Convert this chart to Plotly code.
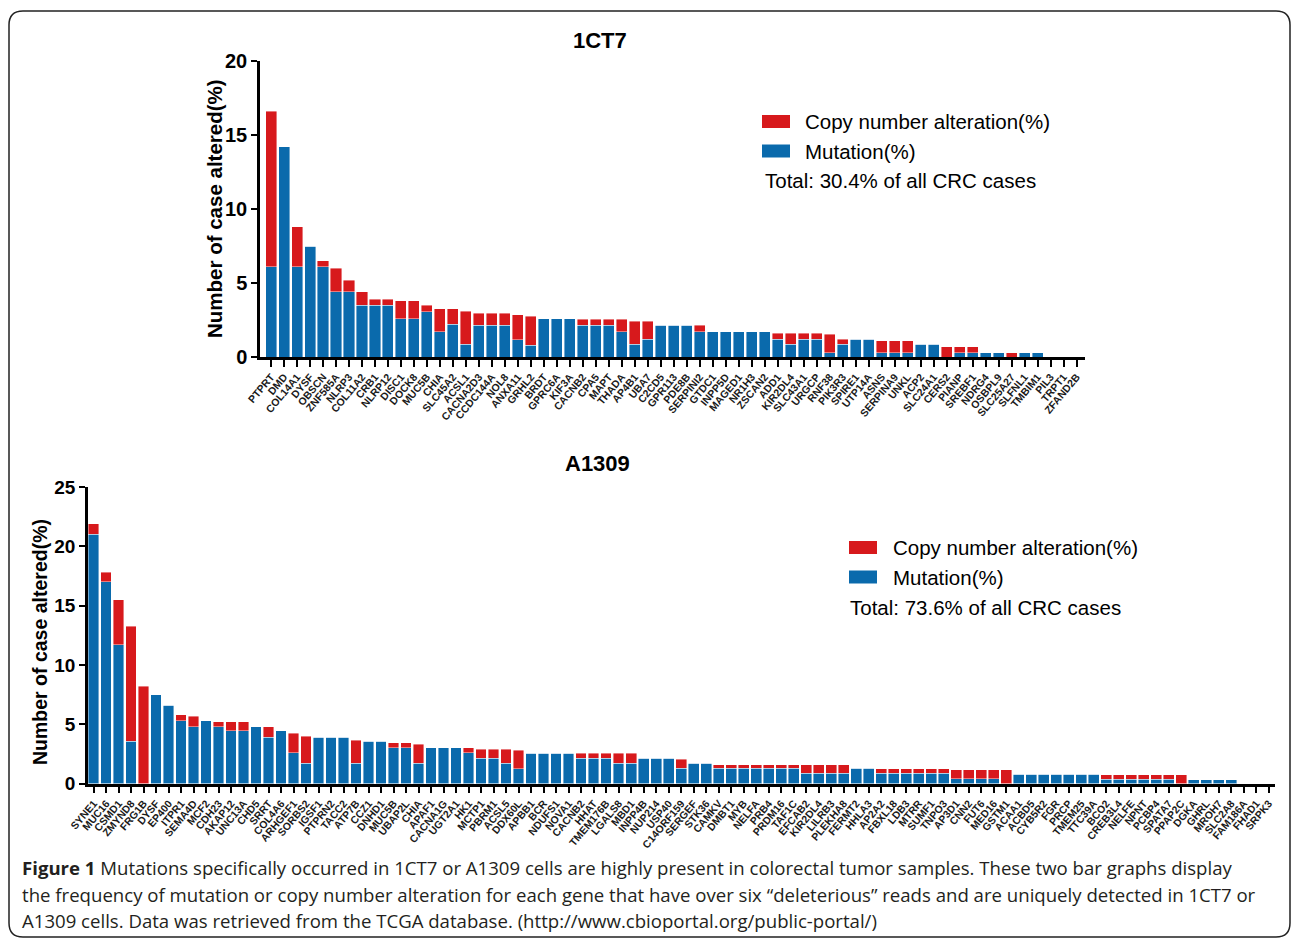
import plotly.graph_objects as go

W, H = 1292, 939

# ---------------- 1CT7 data ----------------
genes_1ct7 = ["PTPRT", "DMD", "COL14A1", "DYSF", "OBSCN", "ZNF585A", "NLRP3", "COL11A2", "CRB1", "NLRP12",
              "DISC1", "DOCK8", "MUC5B", "CHIA", "SLC45A2", "ACSL1", "CACNA2D3", "CCDC144A", "NOL8", "ANXA11",
              "GRHL2", "BRDT", "GPRC6A", "KIF3A", "CACNB2", "CPA5", "MAPT", "THADA", "AP4B1", "UBA7",
              "C2CD5", "GPR113", "PDE8B", "SERPINI2", "GTDC1", "INPP5D", "MAGED1", "NR1H3", "ZSCAN2", "ADD1",
              "KIR2DL4", "SLC43A1", "URGCP", "RNF38", "PIK3R3", "SPIRE1", "UTP14A", "ASNS", "SERPINA9", "UNKL",
              "ACP2", "SLC24A1", "CERS2", "PIANP", "SREBF1", "NDRG4", "OSBPL9", "SLC25A27", "SLFNL1", "TMBIM1",
              "PIL3", "TRPT1", "ZFAND2B"]
mut_1ct7 = [6.1, 14.2, 6.1, 7.5, 6.1, 4.4, 4.4, 3.5, 3.5, 3.5,
            2.6, 2.6, 3.05, 1.7, 2.2, 0.85, 2.15, 2.15, 2.15, 1.15,
            0.8, 2.6, 2.6, 2.6, 2.15, 2.15, 2.15, 1.7, 0.85, 1.2,
            2.15, 2.15, 2.15, 1.7, 1.7, 1.7, 1.7, 1.7, 1.7, 1.2,
            0.85, 1.2, 1.2, 0.3, 0.85, 1.2, 1.2, 0.3, 0.3, 0.3,
            0.85, 0.85, 0.0, 0.3, 0.3, 0.3, 0.3, 0.0, 0.3, 0.3,
            0.0, 0.0, 0.0]
cna_1ct7 = [10.5, 0.0, 2.7, 0.0, 0.4, 1.6, 0.8, 0.9, 0.4, 0.4,
            1.2, 1.2, 0.45, 1.55, 1.05, 2.25, 0.8, 0.8, 0.8, 1.7,
            1.95, 0.0, 0.0, 0.0, 0.4, 0.4, 0.4, 0.85, 1.55, 1.2,
            0.0, 0.0, 0.0, 0.45, 0.0, 0.0, 0.0, 0.0, 0.0, 0.4,
            0.75, 0.4, 0.4, 1.25, 0.35, 0.0, 0.0, 0.8, 0.8, 0.8,
            0.0, 0.0, 0.7, 0.4, 0.4, 0.0, 0.0, 0.3, 0.0, 0.0,
            0.0, 0.0, 0.0]

# ---------------- A1309 data ----------------
genes_a1309 = ["SYNE1", "MUC16", "CSMD1", "ZMYND8", "FRG1B", "DYSF", "EP400", "ITPR1", "SEMA4D", "MCF2",
               "CDH23", "AKAP12", "UNC13A", "CHD5", "SRRT", "COL4A6", "ARHGEF1", "SORBS2", "IGSF1", "PTPRN2",
               "TACC2", "ATP7B", "CCZ1", "DNHD1", "MUC5B", "UBAP2L", "CHIA", "APAF1", "CACNA1G", "UGT2A1",
               "HK1", "MCTP1", "PBRM1", "ACSL5", "DDX60L", "APBB1", "BCR", "NDUFS1", "NOVA1", "CACNB2",
               "HHAT", "TMEM176B", "LGALS8", "MBD1", "INPP4B", "NUP214", "USP40", "C14ORF159", "SERGEF", "STK36",
               "CAMKV", "DMBT1", "MYB", "NELFA", "PRB4", "PRDM16", "TAF1C", "EFCAB2", "KIR2DL4", "LILRB3",
               "PLEKHA8", "FERMT2", "HHLA3", "AP2A2", "FBXL18", "LDB3", "MTRR", "SUMF1", "TNPO3", "AP3D1",
               "CNN2", "FUT6", "MED16", "GSTM1", "ACAA1", "ACBD5", "CYB5R2", "FGR", "PRCP", "TMEM25",
               "TTC39A", "BCO2", "CREB3L4", "NELFE", "NPNT", "PCBP4", "SPATA7", "PPAP2C", "DGKA", "GHRL",
               "MROH7", "SLC2A8", "FAM186A", "FHAD1", "SRPK3"]
mut_a1309 = [21.0, 17.0, 11.7, 3.55, 0.0, 7.5, 6.6, 5.3, 4.8, 5.3,
             4.8, 4.45, 4.45, 4.8, 3.9, 4.45, 2.6, 1.7, 3.9, 3.9,
             3.9, 1.7, 3.55, 3.55, 3.0, 3.0, 1.7, 3.0, 3.0, 3.0,
             2.6, 2.15, 2.15, 1.7, 1.25, 2.55, 2.55, 2.55, 2.55, 2.15,
             2.15, 2.15, 1.7, 1.7, 2.15, 2.15, 2.15, 1.3, 1.7, 1.7,
             1.3, 1.3, 1.3, 1.3, 1.3, 1.3, 1.3, 0.85, 0.85, 0.85,
             0.85, 1.3, 1.3, 0.85, 0.85, 0.85, 0.85, 0.85, 0.85, 0.4,
             0.4, 0.4, 0.4, 0.0, 0.8, 0.8, 0.8, 0.8, 0.8, 0.8,
             0.8, 0.35, 0.35, 0.35, 0.35, 0.35, 0.35, 0.0, 0.3, 0.3,
             0.3, 0.3, 0.0, 0.0, 0.0]
cna_a1309 = [0.9, 0.8, 3.8, 9.7, 8.2, 0.0, 0.0, 0.5, 0.85, 0.0,
             0.4, 0.75, 0.75, 0.0, 0.9, 0.0, 1.65, 2.3, 0.0, 0.0,
             0.0, 1.95, 0.0, 0.0, 0.45, 0.45, 1.6, 0.0, 0.0, 0.0,
             0.4, 0.75, 0.75, 1.2, 1.55, 0.0, 0.0, 0.0, 0.0, 0.4,
             0.4, 0.4, 0.85, 0.85, 0.0, 0.0, 0.0, 0.75, 0.0, 0.0,
             0.3, 0.3, 0.3, 0.3, 0.3, 0.3, 0.3, 0.75, 0.75, 0.75,
             0.75, 0.0, 0.0, 0.4, 0.4, 0.4, 0.4, 0.4, 0.4, 0.75,
             0.75, 0.75, 0.75, 1.15, 0.0, 0.0, 0.0, 0.0, 0.0, 0.0,
             0.0, 0.37, 0.37, 0.37, 0.37, 0.37, 0.37, 0.72, 0.0, 0.0,
             0.0, 0.0, 0.0, 0.0, 0.0]

y_ticks_1ct7 = [0, 5, 10, 15, 20]
y_ticks_a1309 = [0, 5, 10, 15, 20, 25]
legend_names = ["Copy number alteration(%)", "Mutation(%)"]

RED = "#d7191c"
BLUE = "#0a6aac"
FONT = "Liberation Sans, Arial, sans-serif"


def fx(px):
    return px / W


def fy(py):
    return 1 - py / H


fig = go.Figure()
edge = dict(color="rgba(255,255,255,0.7)", width=0.6)
fig.add_trace(go.Bar(x=genes_1ct7, y=mut_1ct7, name=legend_names[1], marker=dict(color=BLUE, line=edge),
                     xaxis="x", yaxis="y", showlegend=False))
fig.add_trace(go.Bar(x=genes_1ct7, y=cna_1ct7, name=legend_names[0], marker=dict(color=RED, line=edge),
                     xaxis="x", yaxis="y", showlegend=False))
fig.add_trace(go.Bar(x=genes_a1309, y=mut_a1309, name=legend_names[1], marker=dict(color=BLUE, line=edge),
                     xaxis="x2", yaxis="y2", showlegend=False))
fig.add_trace(go.Bar(x=genes_a1309, y=cna_a1309, name=legend_names[0], marker=dict(color=RED, line=edge),
                     xaxis="x2", yaxis="y2", showlegend=False))

xcommon = dict(type="category", showline=True, linecolor="black", linewidth=2.5, ticks="outside", ticklen=7,
               tickwidth=2, tickcolor="black", tickangle=-50, showgrid=False, zeroline=False, automargin=False,
               tickmode="array",
               tickfont=dict(family=FONT, size=10.5, color="#1a1a1a", weight="bold"))
ycommon = dict(showline=True, linecolor="black", linewidth=2.5, ticks="outside", ticklen=6, tickwidth=2,
               tickcolor="black", showgrid=False, zeroline=False, automargin=False,
               tickfont=dict(family=FONT, size=20, color="black", weight="bold"))

fig.update_layout(
    width=W, height=H, margin=dict(l=0, r=0, t=0, b=0, pad=0, autoexpand=False),
    paper_bgcolor="white", plot_bgcolor="rgba(0,0,0,0)",
    barmode="stack", bargap=0.15, showlegend=False,
    xaxis=dict(xcommon, domain=[fx(260), fx(1085)], range=[-0.85, 62.65], anchor="y",
               tickvals=genes_1ct7, ticktext=genes_1ct7),
    yaxis=dict(ycommon, domain=[fy(357), fy(61)], range=[0, 20], tickvals=y_ticks_1ct7, anchor="x"),
    xaxis2=dict(xcommon, domain=[fx(88), fx(1275)], range=[-0.45, 94.5], anchor="y2",
                tickvals=genes_a1309, ticktext=genes_a1309),
    yaxis2=dict(ycommon, domain=[fy(783.5), fy(487)], range=[0, 25], tickvals=y_ticks_a1309, anchor="x2",
                tickfont=dict(family=FONT, size=19, color="black", weight="bold")),
)

annots = [
    dict(text="<b>1CT7</b>", x=fx(600), y=fy(40), font=dict(family=FONT, size=22, color="black")),
    dict(text="<b>A1309</b>", x=fx(597), y=fy(463), font=dict(family=FONT, size=22, color="black")),
    dict(text="<b>Number of case altered(%)</b>", x=fx(215), y=fy(209), textangle=-90,
         font=dict(family=FONT, size=20.5, color="black")),
    dict(text="<b>Number of case altered(%)</b>", x=fx(40), y=fy(642), textangle=-90,
         font=dict(family=FONT, size=19.5, color="black")),
]

# legends (drawn boxes + labels)
legend_spec = [
    # (rect_left, first_row_y, text_x, total_text, total_x, total_y)
    (762, 121.5, 803, "Total: 30.4% of all CRC cases", 763, 180),
    (849, 547.5, 891, "Total: 73.6% of all CRC cases", 848, 607),
]
shapes = []
for rl, ry, tx, ttxt, ttx, tty in legend_spec:
    for k, (nm, col) in enumerate(zip(legend_names, [RED, BLUE])):
        cy = ry + 29.5 * k
        shapes.append(dict(type="rect", xref="paper", yref="paper", x0=fx(rl), x1=fx(rl + 28),
                           y0=fy(cy - 6.5), y1=fy(cy + 6.5), fillcolor=col, line=dict(width=0)))
        annots.append(dict(text=nm, x=fx(tx), y=fy(cy), xanchor="left",
                           font=dict(family=FONT, size=20.5, color="black")))
    annots.append(dict(text=ttxt, x=fx(ttx), y=fy(tty), xanchor="left",
                       font=dict(family=FONT, size=20.5, color="black")))

cap_font = dict(family="Open Sans, sans-serif", size=18.6, color="#231f20")
caption_lines = [
    "<b>Figure 1</b> Mutations specifically occurred in 1CT7 or A1309 cells are highly present in colorectal tumor samples. These two bar graphs display",
    "the frequency of mutation or copy number alteration for each gene that have over six \u201cdeleterious\u201d reads and are uniquely detected in 1CT7 or",
    "A1309 cells. Data was retrieved from the TCGA database. (http://www.cbioportal.org/public-portal/)",
]
for line, py in zip(caption_lines, [867, 894, 920]):
    annots.append(dict(text=line, x=fx(20), y=fy(py), xanchor="left", font=cap_font))
for a in annots:
    a.setdefault("xref", "paper")
    a.setdefault("yref", "paper")
    a.setdefault("showarrow", False)
    a.setdefault("yanchor", "middle")
    a.setdefault("xanchor", "center")

# rounded frame
x0, y0, x1, y1, r = 9, 11, 1290, 937, 14
path = (f"M {fx(x0 + r)},{fy(y0)} L {fx(x1 - r)},{fy(y0)} Q {fx(x1)},{fy(y0)} {fx(x1)},{fy(y0 + r)} "
        f"L {fx(x1)},{fy(y1 - r)} Q {fx(x1)},{fy(y1)} {fx(x1 - r)},{fy(y1)} "
        f"L {fx(x0 + r)},{fy(y1)} Q {fx(x0)},{fy(y1)} {fx(x0)},{fy(y1 - r)} "
        f"L {fx(x0)},{fy(y0 + r)} Q {fx(x0)},{fy(y0)} {fx(x0 + r)},{fy(y0)} Z")
shapes.append(dict(type="path", path=path, xref="paper", yref="paper", line=dict(color="#222", width=1.5)))

fig.update_layout(annotations=annots, shapes=shapes)

fig.write_html("out.html", config=dict(displayModeBar=False),
               post_script="document.body.style.margin='0';document.body.style.overflow='hidden';")
